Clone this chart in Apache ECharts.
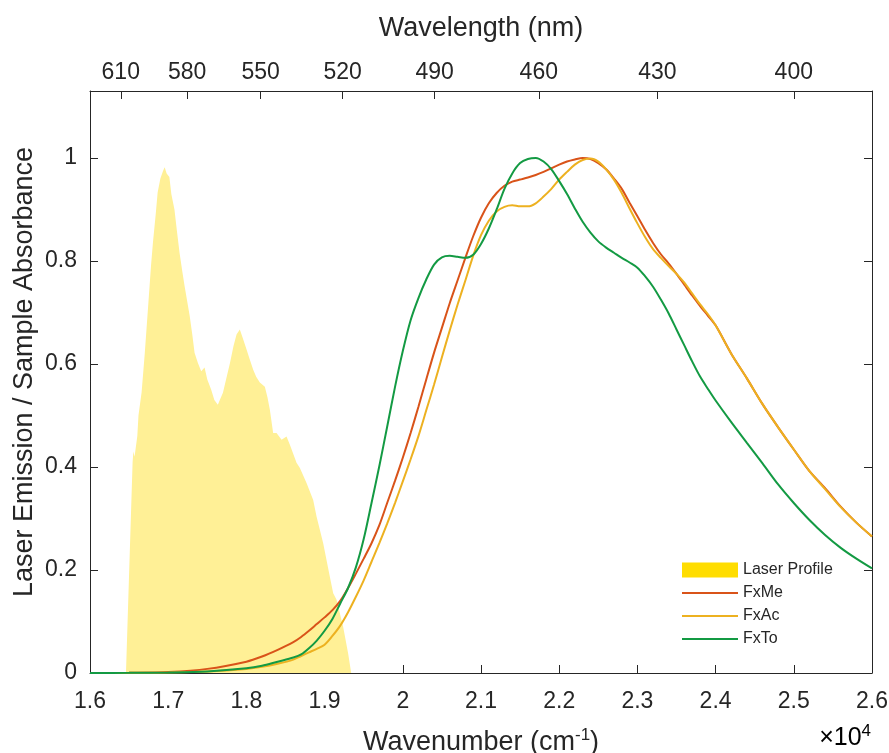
<!DOCTYPE html>
<html>
<head>
<meta charset="utf-8">
<script src="https://cdn.jsdelivr.net/npm/echarts@6/dist/echarts.min.js"></script>
<style>html,body{margin:0;padding:0;background:#fff}#c{width:889px;height:753px}</style>
</head>
<body>
<div id="c"></div>
<script>
// ---- data (wavenumber in units of 1e4 cm^-1) ----
const laserX = [1.600,1.646,1.6545,1.6555,1.657,1.6605,1.662,1.666,1.670,1.674,1.678,1.6805,1.684,1.6865,1.690,1.6935,1.6955,1.698,1.7015,1.704,1.708,1.711,1.7145,1.718,1.721,1.7245,1.7275,1.731,1.7337,1.738,1.7422,1.7465,1.750,1.755,1.759,1.7635,1.766,1.770,1.774,1.779,1.7835,1.7874,1.7916,1.795,1.8002,1.804,1.8087,1.8125,1.8172,1.8236,1.827,1.830,1.8342,1.8385,1.845,1.8513,1.8556,1.8641,1.8684,1.8769,1.8854,1.8897,1.8982,1.9067,1.911,1.9153,1.9237,1.9301,1.9340,2.600];
const laserY = [0,0,0.41,0.43,0.42,0.46,0.50,0.545,0.62,0.705,0.79,0.836,0.89,0.933,0.96,0.975,0.982,0.97,0.963,0.93,0.90,0.86,0.816,0.78,0.751,0.72,0.693,0.655,0.622,0.602,0.586,0.593,0.57,0.55,0.53,0.521,0.53,0.544,0.57,0.602,0.635,0.657,0.667,0.652,0.628,0.61,0.589,0.575,0.564,0.556,0.535,0.511,0.466,0.466,0.453,0.459,0.443,0.408,0.398,0.369,0.336,0.304,0.252,0.187,0.155,0.142,0.090,0.038,0,0];

const wavenumber = [1.60,1.65,1.70,1.75,1.80,1.82,1.84,1.86,1.87,1.88,1.89,1.90,1.91,1.92,1.93,1.94,1.95,1.96,1.97,1.98,1.99,2.00,2.01,2.02,2.03,2.04,2.05,2.06,2.07,2.08,2.09,2.10,2.11,2.12,2.13,2.14,2.15,2.16,2.17,2.18,2.19,2.20,2.21,2.22,2.23,2.24,2.25,2.26,2.27,2.28,2.29,2.30,2.31,2.32,2.33,2.34,2.35,2.36,2.37,2.38,2.39,2.40,2.42,2.44,2.46,2.48,2.50,2.52,2.54,2.56,2.58,2.60];
const fxMe = [0,0.0005,0.002,0.008,0.022,0.032,0.045,0.06,0.07,0.082,0.095,0.108,0.122,0.14,0.165,0.193,0.222,0.252,0.287,0.33,0.373,0.418,0.466,0.517,0.57,0.622,0.67,0.718,0.762,0.806,0.848,0.884,0.912,0.932,0.946,0.954,0.958,0.962,0.967,0.973,0.98,0.987,0.993,0.997,1.0,0.998,0.99,0.978,0.96,0.94,0.913,0.887,0.86,0.835,0.813,0.795,0.775,0.754,0.733,0.713,0.694,0.675,0.62,0.572,0.522,0.477,0.434,0.392,0.359,0.323,0.292,0.265];
const fxAc = [0,0.0003,0.001,0.003,0.008,0.012,0.018,0.026,0.033,0.04,0.047,0.055,0.072,0.092,0.118,0.148,0.18,0.216,0.252,0.29,0.33,0.372,0.415,0.46,0.51,0.56,0.613,0.665,0.715,0.762,0.81,0.85,0.878,0.896,0.905,0.908,0.906,0.906,0.912,0.925,0.94,0.958,0.973,0.987,0.996,0.999,0.993,0.978,0.958,0.932,0.902,0.873,0.846,0.823,0.806,0.79,0.775,0.758,0.737,0.716,0.697,0.675,0.62,0.572,0.522,0.477,0.434,0.392,0.357,0.322,0.292,0.265];
const fxTo = [0,0.0003,0.001,0.003,0.009,0.014,0.022,0.03,0.036,0.048,0.063,0.082,0.105,0.135,0.165,0.205,0.26,0.33,0.402,0.478,0.555,0.625,0.685,0.728,0.764,0.793,0.807,0.81,0.808,0.806,0.812,0.833,0.863,0.9,0.94,0.97,0.99,0.998,1.0,0.993,0.978,0.955,0.93,0.902,0.876,0.855,0.838,0.826,0.816,0.806,0.797,0.787,0.77,0.75,0.725,0.698,0.667,0.636,0.605,0.576,0.552,0.529,0.487,0.447,0.407,0.366,0.33,0.297,0.268,0.243,0.222,0.203];

const xTicks = [1.6,1.7,1.8,1.9,2.0,2.1,2.2,2.3,2.4,2.5,2.6];
const yTicks = [0,0.2,0.4,0.6,0.8,1.0];
const wavelengthTicks = [610,580,550,520,490,460,430,400];

const seriesNames = ['Laser Profile','FxMe','FxAc','FxTo'];
const colors = {laserFill:'#FFF096', laserKey:'#FFDD00', me:'#D95319', ac:'#EDB120', to:'#139A43'};

const axisColor = '#262626';
const font = 'Liberation Sans, Arial, Helvetica, sans-serif';

const zip = (xs, ys) => xs.map((x,i)=>[x, ys[i]]);
const wlPos = wavelengthTicks.map(w => 1000 / w);
const lineIcon = 'path://M0,0H56V2H0Z';
const rectIcon = 'path://M0,0H56V15H0Z';

const chart = echarts.init(document.getElementById('c'), null, {renderer:'canvas'});
const option = {
  animation: false,
  backgroundColor: '#fff',
  textStyle: {fontFamily: font, color: axisColor},
  grid: {left: 90, right: 17, top: 91, bottom: 80, containLabel: false, outerBoundsMode: 'none'},
  legend: {
    orient: 'vertical', left: 682, top: 562, padding: 0,
    itemWidth: 56, itemHeight: 15, itemGap: 7, symbolKeepAspect: true,
    textStyle: {fontSize: 16, color: axisColor, fontFamily: font},
    data: [
      {name: seriesNames[0], icon: rectIcon, itemStyle: {color: colors.laserKey}},
      {name: seriesNames[1], icon: lineIcon},
      {name: seriesNames[2], icon: lineIcon},
      {name: seriesNames[3], icon: lineIcon}
    ]
  },
  xAxis: [
    {
      type: 'value', min: 1.6, max: 2.6, position: 'bottom',
      name: '{n|Wavenumber (cm}{s|-1}{n|)}', nameLocation: 'middle', nameGap: 54,
      nameTextStyle: {rich: {n: {fontSize: 27, fontFamily: font, color: axisColor}, s: {fontSize: 17, fontFamily: font, color: axisColor, verticalAlign: 'top', padding: [0,0,15,0]}}},
      axisLine: {show: true, onZero: false, lineStyle: {color: axisColor, width: 1}},
      axisTick: {show: true, inside: true, length: 8, customValues: xTicks, lineStyle: {color: axisColor}},
      axisLabel: {customValues: xTicks, fontSize: 23, color: axisColor, fontFamily: font, margin: 17},
      splitLine: {show: false}
    },
    {
      type: 'value', min: 1.6, max: 2.6, position: 'top',
      name: 'Wavelength (nm)', nameLocation: 'middle', nameGap: 49,
      nameTextStyle: {fontSize: 27, fontFamily: font, color: axisColor},
      axisLine: {show: true, onZero: false, lineStyle: {color: axisColor, width: 1}},
      axisTick: {show: true, inside: true, length: 8, customValues: wlPos, lineStyle: {color: axisColor}},
      axisLabel: {customValues: wlPos, fontSize: 23, color: axisColor, fontFamily: font, margin: 7,
        formatter: v => String(Math.round(1000 / v))},
      splitLine: {show: false}
    }
  ],
  yAxis: [
    {
      type: 'value', min: 0, max: 1.13, position: 'left',
      axisLine: {show: true, onZero: false, lineStyle: {color: axisColor, width: 1}},
      axisTick: {show: true, inside: true, length: 8, customValues: yTicks, lineStyle: {color: axisColor}},
      axisLabel: {customValues: yTicks, fontSize: 23, color: axisColor, fontFamily: font, margin: 13},
      splitLine: {show: false}
    },
    {
      type: 'value', min: 0, max: 1.13, position: 'right',
      axisLine: {show: true, onZero: false, lineStyle: {color: axisColor, width: 1}},
      axisTick: {show: true, inside: true, length: 8, customValues: yTicks, lineStyle: {color: axisColor}},
      axisLabel: {show: false},
      splitLine: {show: false}
    }
  ],
  graphic: [
    {type: 'text', x: 25, y: 372, rotation: Math.PI / 2,
      style: {text: 'Laser Emission / Sample Absorbance', fontSize: 27, fontFamily: font, fill: axisColor, align: 'center', verticalAlign: 'middle'}},
    {type: 'text', x: 871, y: 738,
      style: {text: '{a|\u00d710}{b|4}', align: 'right', verticalAlign: 'middle',
        rich: {a: {fontSize: 25, fontFamily: font, color: axisColor}, b: {fontSize: 17, fontFamily: font, color: axisColor, verticalAlign: 'top', padding: [0,0,13,0]}}}}
  ],
  series: [
    {name: seriesNames[0], type: 'line', data: zip(laserX, laserY), symbol: 'none', showSymbol: false,
      lineStyle: {width: 0, color: colors.laserFill}, itemStyle: {color: colors.laserKey},
      areaStyle: {color: colors.laserFill, opacity: 1}, z: 1},
    {name: seriesNames[1], type: 'line', data: zip(wavenumber, fxMe), symbol: 'none', smooth: 0.3,
      lineStyle: {width: 2, color: colors.me}, itemStyle: {color: colors.me}, z: 3},
    {name: seriesNames[2], type: 'line', data: zip(wavenumber, fxAc), symbol: 'none', smooth: 0.3,
      lineStyle: {width: 2, color: colors.ac}, itemStyle: {color: colors.ac}, z: 4},
    {name: seriesNames[3], type: 'line', data: zip(wavenumber, fxTo), symbol: 'none', smooth: 0.3,
      lineStyle: {width: 2, color: colors.to}, itemStyle: {color: colors.to}, z: 5}
  ]
};
chart.setOption(option);
</script>
</body>
</html>
